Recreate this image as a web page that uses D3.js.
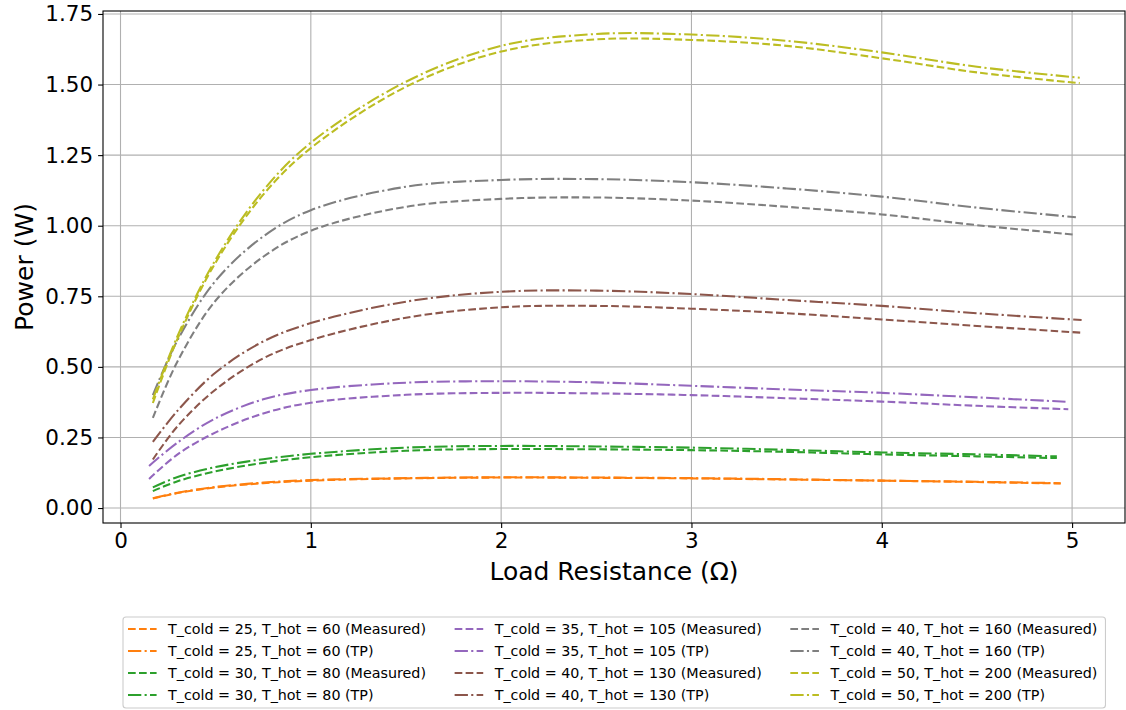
<!DOCTYPE html>
<html><head><meta charset="utf-8">
<script src="https://cdn.jsdelivr.net/npm/d3@7"></script>
<style>body{margin:0;background:#fff} text{font-family:"DejaVu Sans",sans-serif}</style>
</head><body><svg id="c" width="1126" height="710"></svg>
<script>
// ---- data ----
const rOrange = [0.17,0.3,0.5,0.75,1,1.5,2,2.5,3,3.5,4,4.5,4.94];
const rGreen  = [0.17,0.3,0.5,0.75,1,1.5,2,2.5,3,3.5,4,4.5,4.92];
const rPurple = [0.15,0.3,0.5,0.75,1,1.5,2,2.5,3,3.5,4,4.5,4.98];
const rBrown  = [0.17,0.3,0.5,0.75,1,1.5,2,2.5,3,3.5,4,4.5,5.05];
const rGray   = [0.17,0.3,0.5,0.75,1,1.5,2,2.5,3,3.5,4,4.5,5.02];
const rYellow = [0.17,0.3,0.5,0.75,1,1.5,2,2.5,3,3.5,4,4.5,5.04];

const orangeMeas = [0.034,0.053,0.073,0.088,0.097,0.105,0.108,0.107,0.105,0.101,0.097,0.092,0.087];
const orangeTP   = [0.035,0.054,0.075,0.090,0.099,0.106,0.109,0.108,0.106,0.102,0.097,0.093,0.088];
const greenMeas  = [0.060,0.095,0.130,0.160,0.180,0.203,0.209,0.208,0.205,0.199,0.190,0.183,0.177];
const greenTP    = [0.073,0.110,0.145,0.173,0.192,0.214,0.220,0.218,0.214,0.206,0.197,0.190,0.183];
const purpleMeas = [0.103,0.190,0.268,0.335,0.373,0.401,0.408,0.406,0.400,0.389,0.377,0.362,0.350];
const purpleTP   = [0.149,0.232,0.318,0.385,0.418,0.444,0.449,0.445,0.433,0.420,0.408,0.392,0.376];
const brownMeas  = [0.172,0.290,0.420,0.530,0.595,0.674,0.711,0.716,0.706,0.690,0.668,0.645,0.621];
const brownTP    = [0.234,0.345,0.480,0.590,0.655,0.731,0.766,0.770,0.758,0.737,0.716,0.690,0.666];
const grayMeas   = [0.319,0.520,0.735,0.890,0.982,1.067,1.095,1.100,1.089,1.067,1.040,1.002,0.968];
const grayTP     = [0.400,0.595,0.805,0.962,1.055,1.138,1.162,1.165,1.154,1.132,1.103,1.064,1.030];
const yellowMeas = [0.372,0.600,0.870,1.110,1.275,1.492,1.617,1.660,1.658,1.637,1.593,1.543,1.505];
const yellowTP   = [0.385,0.610,0.880,1.125,1.294,1.510,1.637,1.679,1.677,1.655,1.614,1.563,1.524];

const seriesLabels = [
  "T_cold = 25, T_hot = 60 (Measured)","T_cold = 25, T_hot = 60 (TP)",
  "T_cold = 30, T_hot = 80 (Measured)","T_cold = 30, T_hot = 80 (TP)",
  "T_cold = 35, T_hot = 105 (Measured)","T_cold = 35, T_hot = 105 (TP)",
  "T_cold = 40, T_hot = 130 (Measured)","T_cold = 40, T_hot = 130 (TP)",
  "T_cold = 40, T_hot = 160 (Measured)","T_cold = 40, T_hot = 160 (TP)",
  "T_cold = 50, T_hot = 200 (Measured)","T_cold = 50, T_hot = 200 (TP)"
];
const xTicks = [0,1,2,3,4,5];
const yTicks = [0,0.25,0.5,0.75,1.0,1.25,1.5,1.75];

// ---- series table built from the arrays ----
const colors = ["#ff7f0e","#2ca02c","#9467bd","#8c564b","#7f7f7f","#bcbd22"];
const xs = [rOrange,rGreen,rPurple,rBrown,rGray,rYellow];
const ys = [[orangeMeas,orangeTP],[greenMeas,greenTP],[purpleMeas,purpleTP],[brownMeas,brownTP],[grayMeas,grayTP],[yellowMeas,yellowTP]];
const DASH = "7.7,3.3", DASHDOT = "13.3,3.3,2.1,3.3";
const series = [];
xs.forEach((xr,i)=>{
  [0,1].forEach(k=>{
    series.push({label: seriesLabels[i*2+k], color: colors[i], dash: k===0?DASH:DASHDOT,
      pts: xr.map((x,j)=>[x, ys[i][k][j]])});
  });
});

// ---- layout ----
const L=103, R=1125, T=11, B=523;
const svg = d3.select("#c");
const x = d3.scaleLinear().domain([-0.092,5.278]).range([L,R]);
const y = d3.scaleLinear().domain([-0.053,1.7605]).range([B,T]);

svg.append("defs").append("clipPath").attr("id","clip")
  .append("rect").attr("x",L).attr("y",T).attr("width",R-L).attr("height",B-T);

// grid
const g = svg.append("g");
g.selectAll(".gx").data(xTicks).join("line")
  .attr("x1",d=>x(d)).attr("x2",d=>x(d)).attr("y1",T).attr("y2",B)
  .attr("stroke","#b0b0b0").attr("stroke-width",1.1);
g.selectAll(".gy").data(yTicks).join("line")
  .attr("y1",d=>y(d)).attr("y2",d=>y(d)).attr("x1",L).attr("x2",R)
  .attr("stroke","#b0b0b0").attr("stroke-width",1.1);

// lines
const line = d3.line().x(d=>x(d[0])).y(d=>y(d[1])).curve(d3.curveCatmullRom.alpha(0.5));
svg.append("g").attr("clip-path","url(#clip)").selectAll("path").data(series).join("path")
  .attr("d",d=>line(d.pts)).attr("fill","none").attr("stroke",d=>d.color)
  .attr("stroke-width",2.08).attr("stroke-dasharray",d=>d.dash);

// axes
const ax = svg.append("g").attr("transform",`translate(0,${B})`)
  .call(d3.axisBottom(x).tickValues(xTicks).tickFormat(d3.format("d")).tickSize(4.9).tickPadding(4.9));
const ay = svg.append("g").attr("transform",`translate(${L},0)`)
  .call(d3.axisLeft(y).tickValues(yTicks).tickFormat(d3.format(".2f")).tickSize(4.9).tickPadding(4.9));
[ax,ay].forEach(a=>{
  a.select(".domain").remove();
  a.selectAll("line").attr("stroke","#000").attr("stroke-width",1.1);
  a.selectAll("text").attr("fill","#000").style("font-size","21.5px").style("font-family","DejaVu Sans");
});
svg.append("rect").attr("x",L).attr("y",T).attr("width",R-L).attr("height",B-T)
  .attr("fill","none").attr("stroke","#000").attr("stroke-width",1.1);

// axis labels
svg.append("text").attr("x",(L+R)/2).attr("y",580).attr("text-anchor","middle")
  .style("font-size","25px").text("Load Resistance (Ω)");
svg.append("text").attr("transform",`translate(33,${(T+B)/2}) rotate(-90)`).attr("text-anchor","middle")
  .style("font-size","25px").text("Power (W)");

// legend
const lg = svg.append("g");
const box = lg.append("rect").attr("x",123).attr("y",617).attr("height",91).attr("rx",3)
  .attr("fill","#fff").attr("fill-opacity",0.8).attr("stroke","#cccccc").attr("stroke-width",1.1);
const rowY = [629,651,673,695];
const fs = 14.3;
let colX = 128, endX = 0;
for (let c=0;c<3;c++){
  let maxW = 0;
  for (let r=0;r<4;r++){
    const s = series[c*4+r];
    lg.append("line").attr("x1",colX).attr("x2",colX+2*fs).attr("y1",rowY[r]).attr("y2",rowY[r])
      .attr("stroke",s.color).attr("stroke-width",2.08).attr("stroke-dasharray",s.dash);
    const t = lg.append("text").attr("x",colX+2.8*fs).attr("y",rowY[r]+5)
      .style("font-size",fs+"px").attr("fill","#000").text(s.label);
    maxW = Math.max(maxW, t.node().getComputedTextLength());
  }
  endX = colX+2.8*fs+maxW;
  colX = endX + 2*fs;
}
box.attr("width", endX + 8 - 123);
</script></body></html>
